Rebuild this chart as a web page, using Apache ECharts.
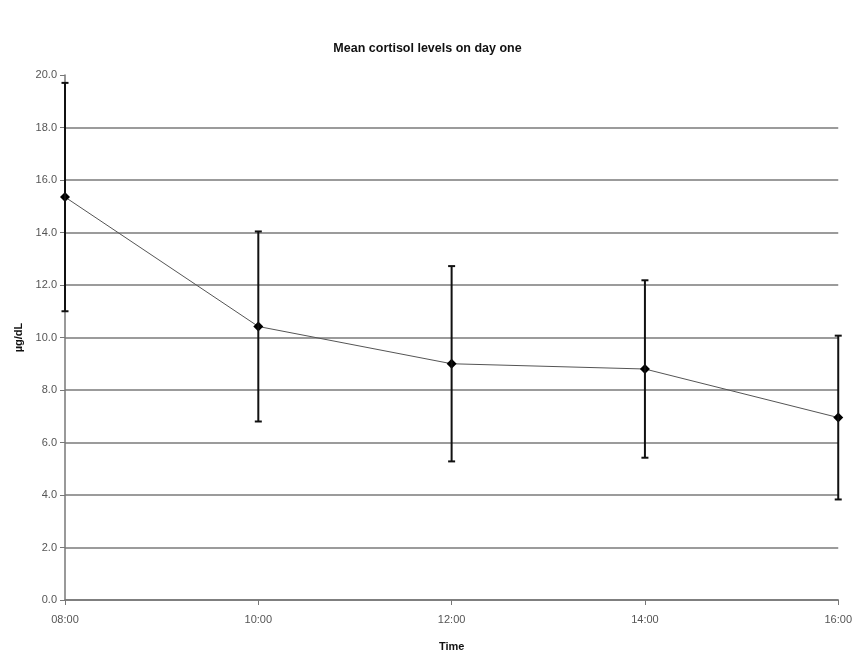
<!DOCTYPE html>
<html><head><meta charset="utf-8">
<script src="https://cdn.jsdelivr.net/npm/echarts@6/dist/echarts.min.js"></script>
<style>html,body{margin:0;padding:0;background:#fff;}#c{width:855px;height:657px;}</style>
</head><body><div id="c"></div>
<script>
var times = ['08:00', '10:00', '12:00', '14:00', '16:00'];
var means = [15.35, 10.42, 9.0, 8.8, 6.95];
var errors = [4.35, 3.62, 3.72, 3.38, 3.12];
var yMin = 0, yMax = 20, yStep = 2;

var chart = echarts.init(document.getElementById('c'));
var errData = times.map(function (t, i) { return [i, means[i] - errors[i], means[i] + errors[i]]; });
var nLines = (yMax - yMin) / yStep + 1;
var gridColors = [];
for (var k = 0; k < nLines; k++) gridColors.push(k === nLines - 1 ? 'rgba(0,0,0,0)' : '#7a7a7a');

chart.setOption({
  animation: false,
  backgroundColor: '#fff',
  title: {
    text: 'Mean cortisol levels on day one', left: 'center', top: 37,
    textStyle: { fontFamily: 'Liberation Sans, Arial', fontSize: 12.5, fontWeight: 'bold', color: '#111' }
  },
  grid: { left: 65, right: 14, top: 75, bottom: 53, containLabel: false },
  xAxis: {
    type: 'category', data: times, boundaryGap: false,
    name: 'Time', nameLocation: 'middle', nameGap: 41,
    nameTextStyle: { fontFamily: 'Liberation Sans, Arial', fontSize: 11, fontWeight: 'bold', color: '#111' },
    axisLine: { lineStyle: { color: '#777', width: 1.5 } },
    axisTick: { show: true, alignWithLabel: true, length: 5, lineStyle: { color: '#777' } },
    axisLabel: { fontFamily: 'Liberation Sans, Arial', fontSize: 11, color: '#555', margin: 14 },
    splitLine: { show: false }
  },
  yAxis: {
    type: 'value', min: yMin, max: yMax, interval: yStep,
    name: 'µg/dL', nameLocation: 'middle', nameGap: 40, nameRotate: 90,
    nameTextStyle: { fontFamily: 'Liberation Sans, Arial', fontSize: 11, fontWeight: 'bold', color: '#111' },
    axisLine: { show: true, lineStyle: { color: '#777', width: 1.5 } },
    axisTick: { show: true, length: 5, lineStyle: { color: '#777' } },
    axisLabel: { fontFamily: 'Liberation Sans, Arial', fontSize: 11, color: '#555', margin: 8,
      formatter: function (v) { return v.toFixed(1); } },
    splitLine: { show: true, lineStyle: { color: gridColors, width: 1.5 } }
  },
  series: [
    {
      type: 'line', data: means, symbol: 'diamond', symbolSize: 10,
      lineStyle: { color: '#555', width: 1 },
      itemStyle: { color: '#000' }, z: 3
    },
    {
      type: 'custom', data: errData, z: 4,
      renderItem: function (params, api) {
        var x = api.value(0);
        var lo = api.coord([x, api.value(1)]);
        var hi = api.coord([x, api.value(2)]);
        var hw = 3.5;
        var st = { stroke: '#111', lineWidth: 2 };
        return {
          type: 'group', children: [
            { type: 'line', shape: { x1: lo[0], y1: lo[1], x2: hi[0], y2: hi[1] }, style: st },
            { type: 'line', shape: { x1: lo[0] - hw, y1: lo[1], x2: lo[0] + hw, y2: lo[1] }, style: st },
            { type: 'line', shape: { x1: hi[0] - hw, y1: hi[1], x2: hi[0] + hw, y2: hi[1] }, style: st }
          ]
        };
      }
    }
  ]
});
</script></body></html>
